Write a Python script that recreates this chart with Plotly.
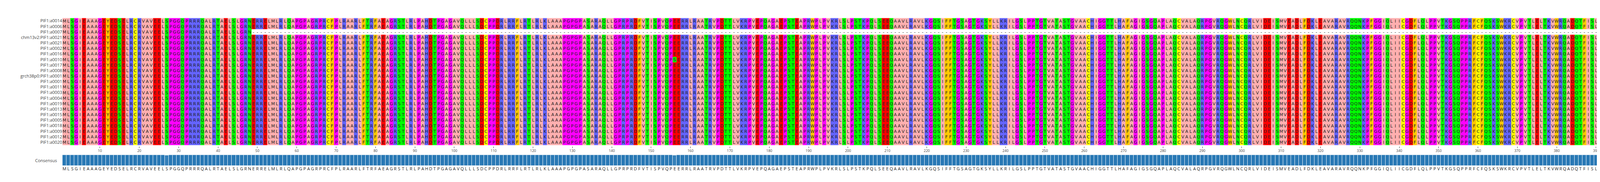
import plotly.graph_objects as go
from collections import Counter

# sequence names, top to bottom
names = ['PIF1:a0014', 'PIF1:a0006', 'PIF1:a0007', 'chm13v2:PIF1:a0021', 'PIF1:a0021',
         'PIF1:a0002', 'PIF1:a0016', 'PIF1:a0010', 'PIF1:a0017', 'PIF1:a0008',
         'grch38p0:PIF1:a0001', 'PIF1:a0001', 'PIF1:a0011', 'PIF1:a0003', 'PIF1:a0004',
         'PIF1:a0019', 'PIF1:a0013', 'PIF1:a0015', 'PIF1:a0005', 'PIF1:a0018',
         'PIF1:a0009', 'PIF1:a0012', 'PIF1:a0020']

consensus = (
    'MLSGIEAAAGEYEDSELRCRVAVEELSPGGQPRRRQALRTAELSLGRNERRELMLRLQAPGPAGR'
    'PRCFPLRAARLFTRFAEAGRSTLRLPAHDTPGAGAVQLLLSDCPPDRLRRFLRTLRLKLAAAPGP'
    'GPASARAQLLGPRPRDFVTISPVQPEERRLRAATRVPDTTLVKRPVEPQAGAEPSTEAPRWPLPV'
    'KRLSLPSTKPQLSEEQAAVLRAVLKGQSIFFTGSAGTGKSYLLKRILGSLPPTGTVATASTGVAA'
    'CHIGGTTLHAFAGIGSGQAPLAQCVALAQRPGVRQGWLNCQRLVIDEISMVEADLFDKLEAVARA'
    'VRQQNKPFGGIQLIICGDFLQLPPVTKGSQPPRFCFQSKSWKRCVPVTLELTKVWRQADQTFISL'
    'LQAVRLGRCSDEVTRQLQATASHKVGRDGIVATRLCTHQDDVALTNERRLQELPGKVHRFEAMDS'
    'NPELASTLDAQCPVSQLLQLKLGAQVMLVKNLSVSRGLVNGARGVVVGFEAEGRGLPQVRFLCGV'
    'TEVIHADRWTVQATGGQLLSRQQLPLQLAWAMSIHKSQGMTLDCVEISLGRVFASGQAYVALSRA'
    'RSLQGLRVLDFDPMAVRCDPRVLHFYATLRRGRSLSLESPDDDEAASDQENMDPIL'
)

# (row, 1-based column, residue) differences from consensus
variants = [(0, 640, 'N'), (3, 640, 'N'), (4, 640, 'N'), (5, 640, 'N'), (6, 640, 'N'),
            (7, 640, 'N'), (12, 626, 'N'), (7, 156, 'S'), (9, 467, 'P'),
            (11, 500, 'V'), (8, 585, 'A'), (3, 27, 'N')]
short_row = 2
short_len = 48

# Zappo colour scheme
groups = {'ILVAM': '#ffafaf', 'FWY': '#ffc800', 'KRH': '#6464ff', 'DE': '#ff0000',
          'STNQ': '#00ff00', 'PG': '#ff00ff', 'C': '#ffff00', '-': '#ffffff'}

seqs = []
for i in range(len(names)):
    s = list(consensus)
    if i == short_row:
        s = s[:short_len] + ['-'] * (len(consensus) - short_len)
    seqs.append(s)
for r, c, aa in variants:
    seqs[r][c - 1] = aa

keys = list(groups)
def gidx(aa):
    for k, g in enumerate(keys):
        if aa in g:
            return k
    return len(keys) - 1

n = len(keys)
colorscale = []
for k, g in enumerate(keys):
    colorscale += [[k / n, groups[g]], [(k + 1) / n, groups[g]]]

cols = list(range(1, len(consensus) + 1))
z = [[gidx(a) + 0.5 for a in s] for s in seqs]

# conservation per column
heights = []
for j in range(len(consensus)):
    col = [s[j] for s in seqs if s[j] != '-']
    heights.append(Counter(col).most_common(1)[0][1] / len(col))

fig = go.Figure()
fig.add_trace(go.Heatmap(
    x=cols, y=names, z=z, text=seqs, texttemplate='%{text}',
    textfont=dict(size=11, color='#222', family='DejaVu Sans'),
    colorscale=colorscale, zmin=0, zmax=n, showscale=False, hoverinfo='skip',
    xaxis='x', yaxis='y'))
fig.add_trace(go.Bar(
    x=cols, y=heights, xaxis='x2', yaxis='y2', hoverinfo='skip',
    marker=dict(color=heights, colorscale=[[0, '#c6dbef'], [1, '#2878b5']], cmin=0.4, cmax=1,
                line=dict(color='white', width=1))))

fig.update_layout(
    width=6678, height=467, showlegend=False,
    margin=dict(l=152, r=65, t=36, b=36),
    plot_bgcolor='white', paper_bgcolor='white', bargap=0,
    xaxis=dict(domain=[0, 1], anchor='y', range=[0.5, len(cols) + 0.5],
               tickvals=list(range(10, len(cols) + 1, 10)), ticks='outside', ticklen=4,
               tickfont=dict(size=9, color='#444'), showgrid=False, zeroline=False),
    yaxis=dict(domain=[0.163, 1], autorange='reversed', tickfont=dict(size=11, color='#444'),
               showgrid=False, zeroline=False, ticklen=0),
    xaxis2=dict(domain=[0, 1], anchor='y2', range=[0.5, len(cols) + 0.5],
                tickvals=cols, ticktext=list(consensus), tickangle=0,
                tickfont=dict(size=11, color='#222'), showgrid=False, zeroline=False),
    yaxis2=dict(domain=[0.035, 0.105], range=[0, 1], showticklabels=False,
                showgrid=False, zeroline=False),
)

for name, s in zip(names, seqs):
    fig.add_annotation(x=1, xref='paper', y=name, yref='y', xanchor='left', xshift=10,
                       text=str(sum(a != '-' for a in s)), showarrow=False,
                       font=dict(size=11, color='#444'))
fig.add_annotation(x=0, xref='paper', y=0.5, yref='y2', xanchor='right', xshift=-12,
                   text='Consensus', showarrow=False, font=dict(size=11, color='#444'))

fig.write_html('out.html')
